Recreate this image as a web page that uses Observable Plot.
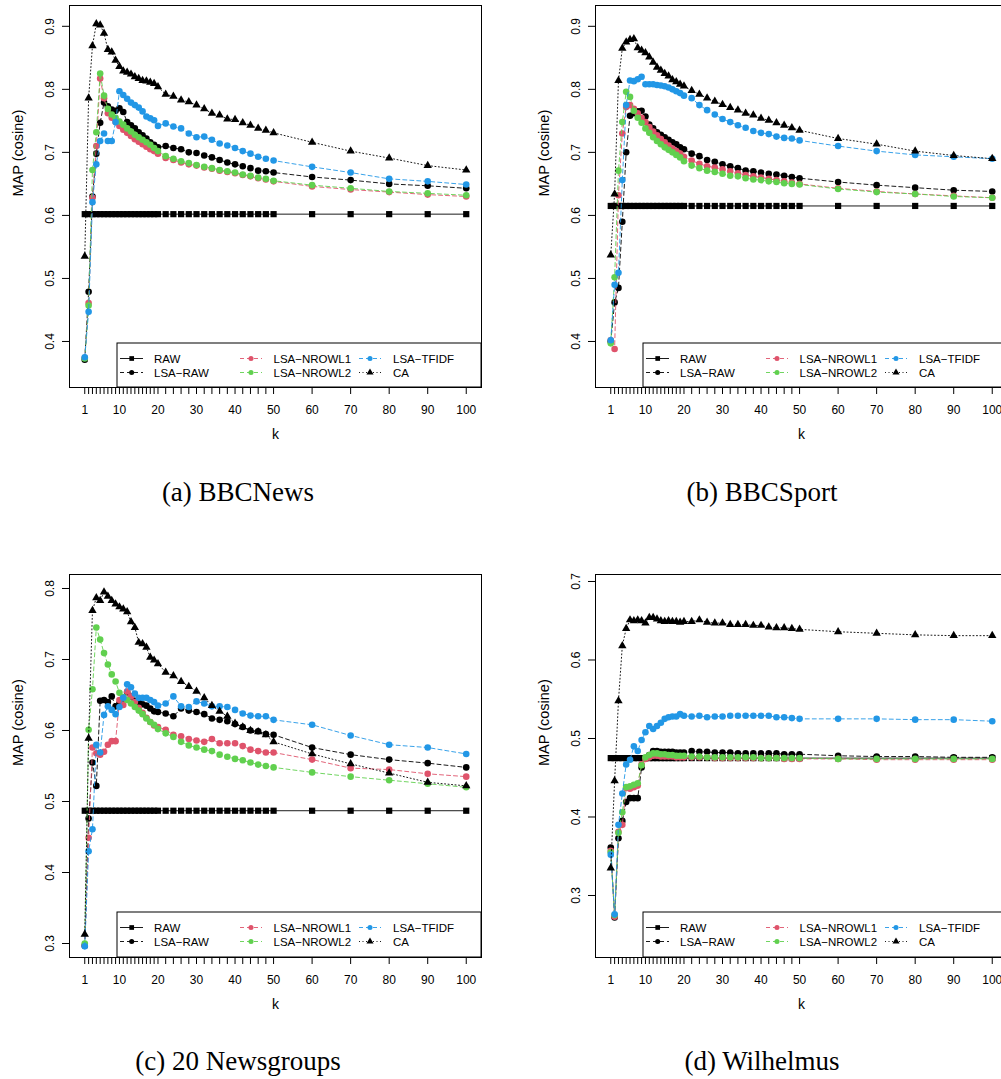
<!DOCTYPE html>
<html><head><meta charset="utf-8">
<script src="https://cdn.jsdelivr.net/npm/d3@7"></script>
<script src="https://cdn.jsdelivr.net/npm/@observablehq/plot@0.6"></script>
<style>
html,body{margin:0;padding:0;background:#fff;}
body{width:1001px;height:1079px;overflow:hidden;position:relative;}
.panel{position:absolute;}
#captions{position:absolute;left:0;top:0;}
</style></head>
<body>
<svg id="captions" width="1001" height="1079"></svg>
<script>
// ---------- shared categories ----------
const K = [1,2,3,4,5,6,7,8,9,10,11,12,13,14,15,16,17,18,19,20,22,24,26,28,30,32,34,36,38,40,42,44,46,48,50,60,70,80,90,100];
const X_LABELS = [1,10,20,30,40,50,60,70,80,90,100];
const NAMES = ["RAW","LSA\u2212RAW","LSA\u2212NROWL1","LSA\u2212NROWL2","LSA\u2212TFIDF","CA"];
const COLORS = ["#000000","#000000","#DF536B","#61D04F","#2297E6","#000000"];
const DASHES = [null,"4,3","4,3","4,3","4,3","1,2.5"];
const SYMBOLS = ["square","circle","circle","circle","circle","triangle"];
const Y_LABEL = "MAP (cosine)";
const X_LABEL = "k";

// ---------- (a) BBCNews ----------
const rawA = [0.602,0.602,0.602,0.602,0.602,0.602,0.602,0.602,0.602,0.602,0.602,0.602,0.602,0.602,0.602,0.602,0.602,0.602,0.602,0.602,0.602,0.602,0.602,0.602,0.602,0.602,0.602,0.602,0.602,0.602,0.602,0.602,0.602,0.602,0.602,0.602,0.602,0.602,0.602,0.602];
const lsaRawA = [0.371,0.479,0.630,0.698,0.747,0.779,0.773,0.768,0.766,0.770,0.764,0.748,0.743,0.738,0.732,0.727,0.722,0.716,0.712,0.708,0.710,0.707,0.705,0.700,0.699,0.695,0.692,0.688,0.684,0.681,0.678,0.675,0.671,0.670,0.668,0.661,0.656,0.650,0.647,0.643];
const nrowl1A = [0.374,0.461,0.628,0.710,0.817,0.786,0.762,0.755,0.748,0.742,0.736,0.731,0.726,0.721,0.717,0.713,0.709,0.705,0.702,0.698,0.691,0.688,0.684,0.681,0.679,0.676,0.674,0.671,0.669,0.667,0.664,0.662,0.659,0.657,0.654,0.646,0.641,0.637,0.633,0.630];
const nrowl2A = [0.373,0.457,0.672,0.732,0.825,0.790,0.769,0.760,0.755,0.749,0.744,0.738,0.733,0.728,0.724,0.720,0.716,0.712,0.707,0.702,0.694,0.690,0.686,0.683,0.680,0.677,0.675,0.672,0.670,0.668,0.665,0.663,0.660,0.658,0.655,0.648,0.643,0.638,0.635,0.632];
const tfidfA = [0.375,0.447,0.621,0.681,0.718,0.730,0.718,0.718,0.748,0.797,0.791,0.785,0.779,0.775,0.771,0.765,0.757,0.754,0.751,0.742,0.746,0.741,0.738,0.730,0.724,0.725,0.720,0.714,0.711,0.707,0.702,0.698,0.693,0.690,0.687,0.677,0.668,0.658,0.654,0.649];
const caA = [0.535,0.786,0.869,0.904,0.902,0.889,0.863,0.859,0.846,0.836,0.829,0.827,0.824,0.820,0.817,0.814,0.813,0.811,0.809,0.804,0.792,0.789,0.783,0.780,0.775,0.769,0.762,0.759,0.753,0.752,0.747,0.743,0.738,0.735,0.731,0.716,0.702,0.691,0.679,0.672];

// ---------- (b) BBCSport ----------
const rawB = [0.615,0.615,0.615,0.615,0.615,0.615,0.615,0.615,0.615,0.615,0.615,0.615,0.615,0.615,0.615,0.615,0.615,0.615,0.615,0.615,0.615,0.615,0.615,0.615,0.615,0.615,0.615,0.615,0.615,0.615,0.615,0.615,0.615,0.615,0.615,0.615,0.615,0.615,0.615,0.615];
const lsaRawB = [0.400,0.462,0.485,0.590,0.700,0.758,0.762,0.765,0.766,0.757,0.744,0.738,0.732,0.728,0.724,0.720,0.716,0.713,0.708,0.705,0.698,0.694,0.688,0.685,0.681,0.678,0.675,0.671,0.670,0.668,0.666,0.665,0.663,0.661,0.659,0.653,0.648,0.644,0.640,0.638];
const nrowl1B = [0.402,0.388,0.632,0.730,0.772,0.775,0.769,0.762,0.755,0.748,0.740,0.733,0.727,0.721,0.716,0.711,0.706,0.702,0.698,0.693,0.687,0.682,0.678,0.676,0.673,0.670,0.667,0.664,0.662,0.660,0.658,0.656,0.654,0.652,0.650,0.643,0.638,0.634,0.631,0.628];
const nrowl2B = [0.397,0.502,0.671,0.748,0.796,0.788,0.766,0.755,0.747,0.738,0.731,0.724,0.718,0.713,0.708,0.704,0.700,0.696,0.692,0.686,0.679,0.675,0.671,0.669,0.666,0.663,0.662,0.659,0.657,0.656,0.654,0.653,0.651,0.650,0.649,0.642,0.637,0.634,0.630,0.628];
const tfidfB = [0.402,0.490,0.509,0.656,0.775,0.814,0.813,0.816,0.820,0.808,0.808,0.808,0.807,0.806,0.805,0.803,0.800,0.797,0.794,0.790,0.786,0.775,0.767,0.760,0.753,0.748,0.743,0.739,0.734,0.731,0.729,0.725,0.723,0.722,0.719,0.710,0.702,0.696,0.693,0.690];
const caB = [0.537,0.634,0.814,0.865,0.875,0.879,0.880,0.866,0.862,0.858,0.851,0.843,0.835,0.830,0.825,0.821,0.815,0.812,0.808,0.805,0.798,0.792,0.786,0.781,0.776,0.771,0.767,0.762,0.759,0.754,0.751,0.747,0.743,0.739,0.735,0.722,0.713,0.702,0.695,0.690];

// ---------- (c) 20 Newsgroups ----------
const rawC = [0.487,0.487,0.487,0.487,0.487,0.487,0.487,0.487,0.487,0.487,0.487,0.487,0.487,0.487,0.487,0.487,0.487,0.487,0.487,0.487,0.487,0.487,0.487,0.487,0.487,0.487,0.487,0.487,0.487,0.487,0.487,0.487,0.487,0.487,0.487,0.487,0.487,0.487,0.487,0.487];
const lsaRawC = [0.297,0.476,0.555,0.522,0.642,0.643,0.640,0.648,0.634,0.638,0.645,0.654,0.648,0.642,0.640,0.637,0.635,0.631,0.627,0.626,0.624,0.620,0.631,0.628,0.626,0.623,0.617,0.615,0.613,0.609,0.605,0.600,0.599,0.595,0.594,0.576,0.566,0.559,0.554,0.548];
const nrowl1C = [0.297,0.449,0.576,0.568,0.566,0.570,0.580,0.585,0.585,0.643,0.636,0.655,0.648,0.640,0.632,0.625,0.618,0.612,0.607,0.605,0.601,0.594,0.592,0.588,0.586,0.584,0.588,0.582,0.582,0.582,0.578,0.573,0.571,0.569,0.569,0.559,0.547,0.545,0.539,0.535];
const nrowl2C = [0.300,0.601,0.658,0.745,0.728,0.709,0.693,0.679,0.669,0.653,0.647,0.643,0.638,0.633,0.628,0.623,0.617,0.612,0.608,0.602,0.596,0.591,0.584,0.579,0.576,0.573,0.571,0.566,0.563,0.560,0.558,0.555,0.552,0.550,0.548,0.541,0.535,0.530,0.525,0.520];
const tfidfC = [0.296,0.430,0.461,0.580,0.569,0.622,0.634,0.629,0.623,0.633,0.646,0.665,0.661,0.652,0.646,0.646,0.646,0.643,0.640,0.635,0.638,0.648,0.634,0.633,0.641,0.638,0.634,0.634,0.633,0.629,0.624,0.621,0.620,0.620,0.615,0.608,0.593,0.580,0.576,0.567];
const caC = [0.313,0.589,0.769,0.787,0.783,0.795,0.789,0.783,0.778,0.774,0.771,0.767,0.753,0.745,0.724,0.722,0.717,0.703,0.699,0.694,0.682,0.677,0.669,0.662,0.655,0.646,0.635,0.627,0.620,0.610,0.605,0.600,0.598,0.594,0.584,0.567,0.553,0.540,0.527,0.522];

// ---------- (d) Wilhelmus ----------
const rawD = [0.475,0.475,0.475,0.475,0.475,0.475,0.475,0.475,0.475,0.475,0.475,0.475,0.475,0.475,0.475,0.475,0.475,0.475,0.475,0.475,0.475,0.475,0.475,0.475,0.475,0.475,0.475,0.475,0.475,0.475,0.475,0.475,0.475,0.475,0.475,0.475,0.475,0.475,0.475,0.475];
const lsaRawD = [0.361,0.272,0.373,0.395,0.419,0.424,0.424,0.424,0.463,0.475,0.479,0.484,0.484,0.483,0.483,0.483,0.483,0.482,0.482,0.482,0.484,0.483,0.483,0.482,0.482,0.482,0.481,0.481,0.481,0.481,0.481,0.481,0.480,0.480,0.480,0.478,0.477,0.477,0.476,0.476];
const nrowl1D = [0.357,0.273,0.381,0.390,0.437,0.436,0.438,0.440,0.467,0.474,0.476,0.478,0.478,0.477,0.477,0.477,0.477,0.476,0.476,0.476,0.476,0.476,0.476,0.475,0.475,0.475,0.475,0.475,0.475,0.475,0.475,0.475,0.474,0.474,0.474,0.474,0.473,0.473,0.473,0.473];
const nrowl2D = [0.355,0.275,0.380,0.406,0.438,0.439,0.441,0.443,0.466,0.476,0.479,0.481,0.481,0.480,0.480,0.479,0.479,0.478,0.478,0.478,0.477,0.477,0.476,0.476,0.476,0.476,0.476,0.476,0.476,0.475,0.475,0.475,0.475,0.475,0.475,0.474,0.474,0.474,0.474,0.474];
const tfidfD = [0.352,0.276,0.390,0.430,0.467,0.473,0.490,0.484,0.498,0.508,0.516,0.512,0.516,0.520,0.525,0.527,0.528,0.528,0.531,0.529,0.528,0.529,0.527,0.528,0.528,0.529,0.529,0.529,0.529,0.529,0.529,0.527,0.527,0.526,0.525,0.525,0.525,0.524,0.524,0.522];
const caD = [0.335,0.446,0.548,0.618,0.640,0.651,0.650,0.651,0.650,0.647,0.654,0.654,0.652,0.650,0.649,0.650,0.649,0.649,0.648,0.649,0.649,0.651,0.648,0.647,0.647,0.645,0.645,0.645,0.644,0.644,0.642,0.641,0.641,0.640,0.639,0.636,0.634,0.632,0.631,0.631];

const CAPTIONS = ["(a) BBCNews","(b) BBCSport","(c) 20 Newsgroups","(d) Wilhelmus"];

const PANELS = [
  {left:0,   top:0,   mb:73, yDomain:[0.327,0.933], yTicks:[0.4,0.5,0.6,0.7,0.8,0.9], series:[rawA,lsaRawA,nrowl1A,nrowl2A,tfidfA,caA], caption:CAPTIONS[0], capX:238, capY:501},
  {left:526, top:0,   mb:73, yDomain:[0.327,0.933], yTicks:[0.4,0.5,0.6,0.7,0.8,0.9], series:[rawB,lsaRawB,nrowl1B,nrowl2B,tfidfB,caB], caption:CAPTIONS[1], capX:762, capY:501},
  {left:0,   top:569, mb:72, yDomain:[0.2803,0.8197], yTicks:[0.3,0.4,0.5,0.6,0.7,0.8], series:[rawC,lsaRawC,nrowl1C,nrowl2C,tfidfC,caC], caption:CAPTIONS[2], capX:238, capY:1070},
  {left:526, top:569, mb:72, yDomain:[0.2210,0.7089], yTicks:[0.3,0.4,0.5,0.6,0.7], series:[rawD,lsaRawD,nrowl1D,nrowl2D,tfidfD,caD], caption:CAPTIONS[3], capX:762, capY:1070}
];

const W = 500, H = 460, ML = 69, MR = 19, MT = 5;
const X_DOMAIN = [1 - 0.04*99, 100 + 0.04*99];
const FONT = '"Liberation Sans", Arial, Helvetica, sans-serif';
const DOT_R = {square:3.5, circle:3.3, triangle:3.1};

// legend layout (relative to legend box)
const LEG_LEFT = 117, LEG_TOP = 343;
const LEG_COLS = [{l0:3,l1:26,s:14.7,t:37},{l0:123,l1:145,s:134,t:156.5},{l0:242,l1:264,s:253,t:276}];
const LEG_ROWS = [15.5,29.5];

PANELS.forEach(p => {
  const rows = [];
  p.series.forEach((vals, si) => vals.forEach((v, i) => rows.push({k: K[i], v, s: si})));
  const marks = [Plot.frame({stroke:"#000", strokeWidth:1})];
  NAMES.forEach((name, si) => {
    const d = rows.filter(r => r.s === si);
    marks.push(Plot.line(d, {x:"k", y:"v", stroke: COLORS[si], strokeWidth: 0.9, strokeDasharray: DASHES[si] || undefined}));
    marks.push(Plot.dot(d, {x:"k", y:"v", symbol: SYMBOLS[si], fill: COLORS[si], stroke: "none", r: DOT_R[SYMBOLS[si]]}));
  });
  marks.push(Plot.axisX({ticks: K, tickSize: 7, tickPadding: 11, tickFormat: d => X_LABELS.includes(d) ? String(d) : "", label: null, fontSize: 12}));
  marks.push(Plot.axisY({ticks: p.yTicks, tickSize: 7, tickRotate: -90, tickPadding: 9, tickFormat: d => d.toFixed(1), label: null, fontSize: 12}));
  marks.push(Plot.text([Y_LABEL], {text: d => d, frameAnchor: "left", dx: -51, rotate: -90, fontSize: 14.5}));
  marks.push(Plot.text([X_LABEL], {text: d => d, frameAnchor: "bottom", dy: 51, fontSize: 14}));

  const svg = Plot.plot({
    width: W, height: H,
    marginLeft: ML, marginRight: MR, marginTop: MT, marginBottom: p.mb,
    x: {domain: X_DOMAIN},
    y: {domain: p.yDomain},
    style: {fontFamily: FONT, fontSize: "12px", background: "transparent", color: "#000"},
    marks
  });
  svg.classList.add("panel");
  svg.style.left = p.left + "px";
  svg.style.top = p.top + "px";
  svg.style.position = "absolute";
  document.body.appendChild(svg);

  // legend inside plot area
  const frameBottom = H - p.mb;
  const g = d3.select(svg).append("g").attr("transform", `translate(${LEG_LEFT},${LEG_TOP})`);
  g.append("rect").attr("width", (W - MR) - LEG_LEFT).attr("height", frameBottom - LEG_TOP)
    .attr("fill", "#fff").attr("stroke", "#000").attr("stroke-width", 1);
  NAMES.forEach((name, si) => {
    const c = LEG_COLS[Math.floor(si / 2)], y = LEG_ROWS[si % 2];
    g.append("line").attr("x1", c.l0).attr("x2", c.l1).attr("y1", y).attr("y2", y)
      .attr("stroke", COLORS[si]).attr("stroke-width", 0.9)
      .attr("stroke-dasharray", DASHES[si] || null);
    const size = SYMBOLS[si] === "circle" ? 20 : 22;
    const type = SYMBOLS[si] === "square" ? d3.symbolSquare : SYMBOLS[si] === "triangle" ? d3.symbolTriangle : d3.symbolCircle;
    g.append("path").attr("d", d3.symbol(type, size)()).attr("transform", `translate(${c.s},${y})`).attr("fill", COLORS[si]);
    g.append("text").attr("x", c.t).attr("y", y).attr("dy", "0.35em").attr("text-anchor", "start")
      .attr("font-family", FONT).attr("font-size", 11.5).attr("fill", "#000").text(name);
  });
});

// captions below each panel
const cap = d3.select("#captions");
PANELS.forEach(p => {
  cap.append("text").attr("x", p.capX).attr("y", p.capY).attr("text-anchor", "middle")
    .attr("font-family", '"Liberation Serif", "Times New Roman", serif').attr("font-size", 27)
    .attr("fill", "#000").text(p.caption);
});
</script>
</body></html>
